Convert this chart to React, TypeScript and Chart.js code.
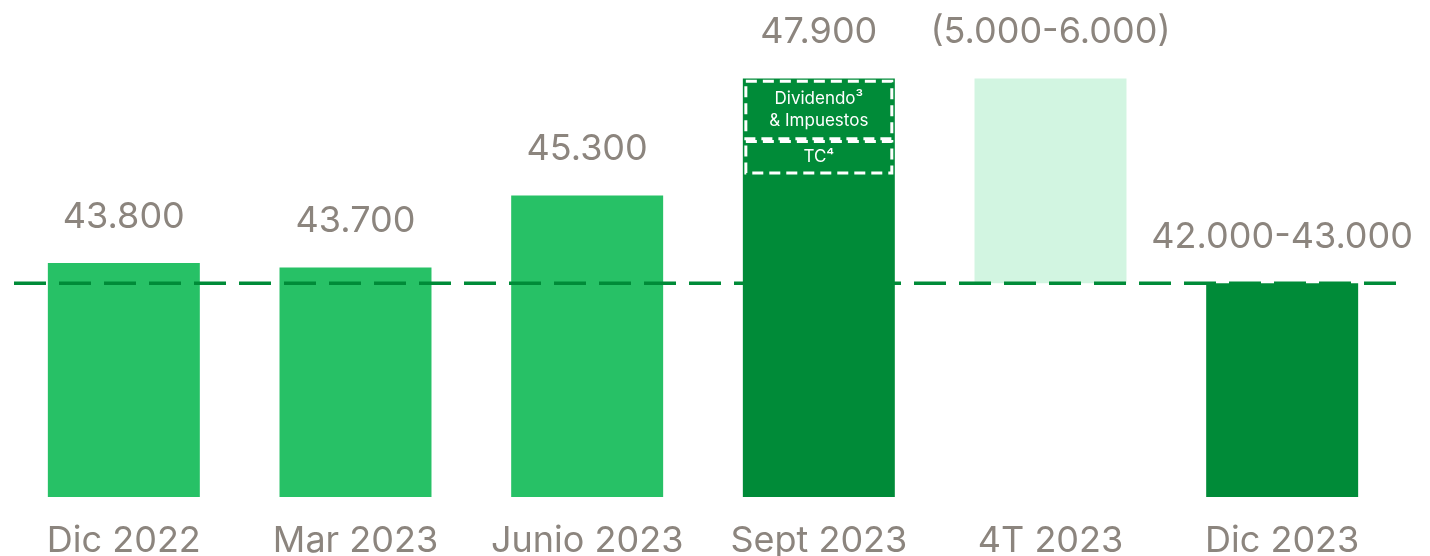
import React, { useEffect, useRef } from "react";
import { Chart, registerables } from "chart.js";

Chart.register(...registerables);

// categories
const categories = ["Dic 2022", "Mar 2023", "Junio 2023", "Sept 2023", "4T 2023", "Dic 2023"];
// bar values (plotted levels)
const dic2023Level = 43350;
const sept2023 = 47900;
const barValues: (number | [number, number])[] = [43800, 43700, 45300, sept2023, [dic2023Level, sept2023], dic2023Level];
// labels above bars
const valueLabels = ["43.800", "43.700", "45.300", "47.900", "(5.000-6.000)", "42.000-43.000"];
// segments inside Sept 2023 bar
const dividendSegment: [number, number] = [46560, 47840];
const tcSegment: [number, number] = [45800, 46500];
const segmentLabels = [["Dividendo³", "& Impuestos"], ["TC⁴"]];

const LIGHT = "#27C166";
const DARK = "#008B38";
const MINT = "#D2F5E1";
const GRAY = "#8C857E";
const barColors = [LIGHT, LIGHT, LIGHT, DARK, MINT, DARK];
const FONT = "Inter";

export default function App() {
  const ref = useRef<HTMLCanvasElement>(null);
  useEffect(() => {
    const overlay = {
      id: "overlay",
      afterDatasetsDraw(chart: any) {
        const ctx = chart.ctx;
        const y = chart.scales.y;
        const meta = chart.getDatasetMeta(0);
        ctx.save();
        // dashed reference line
        const ly = y.getPixelForValue(dic2023Level);
        ctx.strokeStyle = DARK;
        ctx.lineWidth = 3.5;
        ctx.setLineDash([32, 13]);
        ctx.beginPath();
        ctx.moveTo(chart.chartArea.left + 6, ly);
        ctx.lineTo(chart.chartArea.right, ly);
        ctx.stroke();
        // segments in Sept bar
        const bar = meta.data[3];
        const half = bar.width / 2;
        ctx.strokeStyle = "#ffffff";
        ctx.lineWidth = 3;
        ctx.setLineDash([11, 6]);
        ctx.fillStyle = "#ffffff";
        ctx.textAlign = "center";
        ctx.textBaseline = "middle";
        ctx.font = `17px ${FONT}`;
        [dividendSegment, tcSegment].forEach((seg, i) => {
          const top = y.getPixelForValue(seg[1]);
          const bot = y.getPixelForValue(seg[0]);
          const l = bar.x - half + 3;
          const r = bar.x + half - 3;
          ctx.strokeRect(l, top, r - l, bot - top);
          const lines = segmentLabels[i];
          const mid = (top + bot) / 2;
          lines.forEach((t, k) => {
            ctx.fillText(t, bar.x, mid + (k - (lines.length - 1) / 2) * 22);
          });
        });
        ctx.setLineDash([]);
        // value labels
        ctx.fillStyle = GRAY;
        ctx.font = `36px ${FONT}`;
        meta.data.forEach((el: any, i: number) => {
          const topY = Math.min(el.y, el.base);
          ctx.fillText(valueLabels[i], el.x, topY - 46);
        });
        ctx.restore();
      },
    };
    const chart = new Chart(ref.current!, {
      type: "bar",
      data: {
        labels: categories,
        datasets: [
          {
            data: barValues as any,
            backgroundColor: barColors,
            borderWidth: 0,
            barPercentage: 0.656,
            categoryPercentage: 1,
          },
        ],
      },
      options: {
        animation: false,
        responsive: false,
        layout: { padding: { left: 8, right: 32, top: 2, bottom: -21 } },
        plugins: { legend: { display: false }, tooltip: { enabled: false } },
        scales: {
          x: {
            grid: { display: false },
            border: { display: false },
            ticks: { color: GRAY, font: { family: FONT, size: 36, lineHeight: 1 }, padding: 18, maxRotation: 0 },
          },
          y: { display: false, min: 38600, max: 49600 },
        },
      },
      plugins: [overlay],
    });
    return () => chart.destroy();
  }, []);
  return (
    <div style={{ position: "absolute", left: 0, top: 0, width: 1430, height: 556, background: "#fff" }}>
      <canvas ref={ref} width={1430} height={556} />
    </div>
  );
}
